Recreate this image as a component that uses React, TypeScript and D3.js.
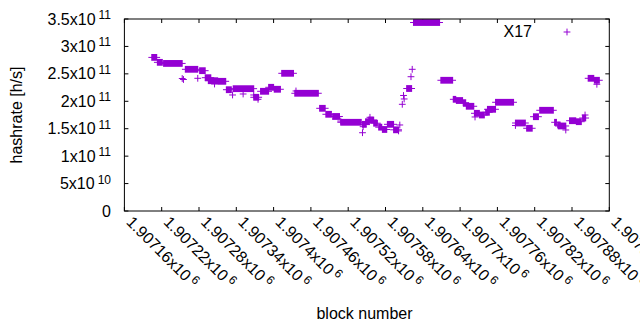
import React from "react";
import * as d3 from "d3";

// Runs of consecutive blocks sharing one hashrate estimate: [startBlock, endBlock, hashrate]
const runStart = [
  1907204, 1907213, 1907223, 1907258, 1907281, 1907290, 1907295, 1907311, 1907324, 1907335,
  1907368, 1907379, 1907392, 1907401, 1907413, 1907434, 1907474, 1907484, 1907495, 1907508,
  1907543, 1907548, 1907553, 1907561, 1907569, 1907575, 1907583, 1907593, 1907614, 1907625,
  1907669, 1907689, 1907694, 1907705, 1907710, 1907723, 1907731, 1907741, 1907744, 1907757,
  1907789, 1907807, 1907818, 1907828, 1907852, 1907857, 1907858, 1907876, 1907887, 1907897,
  1907906, 1907916,
];
const runEnd = [
  1907212, 1907221, 1907253, 1907278, 1907290, 1907299, 1907310, 1907323, 1907332, 1907368,
  1907376, 1907392, 1907400, 1907411, 1907432, 1907472, 1907483, 1907493, 1907506, 1907541,
  1907549, 1907554, 1907561, 1907567, 1907574, 1907582, 1907593, 1907601, 1907622, 1907667,
  1907688, 1907693, 1907704, 1907709, 1907722, 1907731, 1907739, 1907747, 1907757, 1907786,
  1907805, 1907816, 1907826, 1907850, 1907855, 1907861, 1907870, 1907886, 1907895, 1907902,
  1907915, 1907924,
];
const runHash = [
  2.8e11, 2.71e11, 2.69e11, 2.583e11, 2.558e11, 2.43e11, 2.375e11, 2.364e11, 2.211e11, 2.23e11,
  2.073e11, 2.182e11, 2.255e11, 2.219e11, 2.51e11, 2.146e11, 1.872e11, 1.763e11, 1.723e11, 1.617e11,
  1.58e11, 1.628e11, 1.659e11, 1.6e11, 1.528e11, 1.486e11, 1.58e11, 1.48e11, 2.233e11, 3.436e11,
  2.383e11, 2.036e11, 2.014e11, 1.975e11, 1.909e11, 1.781e11, 1.75e11, 1.799e11, 1.854e11, 1.982e11,
  1.604e11, 1.508e11, 1.719e11, 1.836e11, 1.617e11, 1.568e11, 1.55e11, 1.646e11, 1.628e11, 1.695e11,
  2.419e11, 2.383e11,
];

// Isolated points
const pointBlock = [
  1907253, 1907255, 1907278, 1907305, 1907334, 1907351, 1907375, 1907368, 1907436, 1907508,
  1907543, 1907544, 1907555, 1907603, 1907601, 1907607, 1907610, 1907609, 1907621, 1907623,
  1907724, 1907789, 1907870, 1907901, 1907920,
];
const pointHash = [
  2.415e11, 2.397e11, 2.419e11, 2.315e11, 2.115e11, 2.133e11, 2.036e11, 2.115e11, 2.188e11, 1.64e11,
  1.427e11, 1.537e11, 1.708e11, 1.568e11, 1.46e11, 1.945e11, 2.042e11, 2.106e11, 2.448e11, 2.583e11,
  1.714e11, 1.559e11, 1.477e11, 1.75e11, 2.31e11,
];

const xTicks = [
  1907160, 1907220, 1907280, 1907340, 1907400, 1907460, 1907520, 1907580, 1907640, 1907700,
  1907760, 1907820, 1907880, 1907940,
];
const yTicks = [0, 5e10, 1e11, 1.5e11, 2e11, 2.5e11, 3e11, 3.5e11];

const COLOR = "#9400d3";
const FONT = "'Liberation Sans', Arial, sans-serif";
const FS = 16;
const SUP = 12;

const W = 640;
const H = 330;
const L = 124.4;
const R = 609.3;
const T = 19;
const B = 211;

export default function App() {
  const x = d3.scaleLinear().domain([1907160, 1907940]).range([L, R]);
  const y = d3.scaleLinear().domain([0, 3.5e11]).range([B, T]);
  const half = 3.4;

  const yLabel = (v: number) => {
    if (v === 0) return { m: "0", e: "" };
    const e = Math.floor(Math.log10(v) + 1e-9);
    const m = +(v / Math.pow(10, e)).toFixed(3);
    return { m: `${m}x10`, e: `${e}` };
  };
  const xLabel = (v: number) => {
    const m = +(v / 1e6).toFixed(5);
    return { m: `${m}x10`, e: "6" };
  };

  const plus = (cx: number, cy: number, key: string) => (
    <g key={key}>
      <line x1={cx - half} x2={cx + half} y1={cy} y2={cy} stroke={COLOR} strokeWidth={1} />
      <line x1={cx} x2={cx} y1={cy - half} y2={cy + half} stroke={COLOR} strokeWidth={1} />
    </g>
  );

  return (
    <svg
      width={W}
      height={H}
      style={{ position: "absolute", left: 0, top: 0, background: "#fff" }}
      fontFamily={FONT}
    >
      <rect x={0} y={0} width={W} height={H} fill="#fff" />
      {/* ticks */}
      {yTicks.map((t, i) => (
        <g key={"yt" + i}>
          <line x1={L} x2={L + 4} y1={y(t)} y2={y(t)} stroke="#000" />
          <line x1={R - 4} x2={R} y1={y(t)} y2={y(t)} stroke="#000" />
        </g>
      ))}
      {xTicks.map((t, i) => (
        <g key={"xt" + i}>
          <line x1={x(t)} x2={x(t)} y1={B} y2={B - 4} stroke="#000" />
          <line x1={x(t)} x2={x(t)} y1={T} y2={T + 4} stroke="#000" />
        </g>
      ))}
      {/* y tick labels */}
      {yTicks.map((t, i) => {
        const lb = yLabel(t);
        return (
          <text key={"yl" + i} x={111} y={y(t) + 5.5} fontSize={FS} textAnchor="end" fill="#000">
            {lb.m}
            {lb.e && (
              <tspan dx={3} dy={-5.5} fontSize={SUP}>
                {lb.e}
              </tspan>
            )}
          </text>
        );
      })}
      {/* x tick labels */}
      {xTicks.map((t, i) => {
        const lb = xLabel(t);
        const ax = x(t) + 1;
        const ay = B + 12;
        return (
          <text
            key={"xl" + i}
            transform={`translate(${ax},${ay}) rotate(45)`}
            fontSize={FS}
            textAnchor="start"
            fill="#000"
          >
            {lb.m}
            <tspan dx={3} dy={-5.5} fontSize={SUP}>
              {lb.e}
            </tspan>
          </text>
        );
      })}
      {/* axis titles */}
      <text
        transform={`translate(21.5,${(T + B) / 2}) rotate(-90)`}
        fontSize={FS}
        textAnchor="middle"
        fill="#000"
      >
        hashrate [h/s]
      </text>
      <text x={364.5} y={319} fontSize={FS} textAnchor="middle" fill="#000">
        block number
      </text>
      {/* data runs */}
      {runStart.map((s, i) => {
        const x0 = x(s);
        const x1 = x(runEnd[i]);
        const cy = y(runHash[i]);
        return (
          <g key={"r" + i}>
            <rect x={x0 - 0.5} y={cy - half} width={x1 - x0 + 1} height={half * 2} fill={COLOR} />
            <line x1={x0 - half} x2={x1 + half} y1={cy} y2={cy} stroke={COLOR} strokeWidth={1} />
          </g>
        );
      })}
      {pointBlock.map((b, i) => plus(x(b), y(pointHash[i]), "p" + i))}
      {/* legend */}
      <text x={532} y={37} fontSize={FS} textAnchor="end" fill="#000">
        X17
      </text>
      {plus(567, 32, "leg")}
      {/* border */}
      <rect x={L} y={T} width={R - L} height={B - T} fill="none" stroke="#000" strokeWidth={1} />
    </svg>
  );
}
